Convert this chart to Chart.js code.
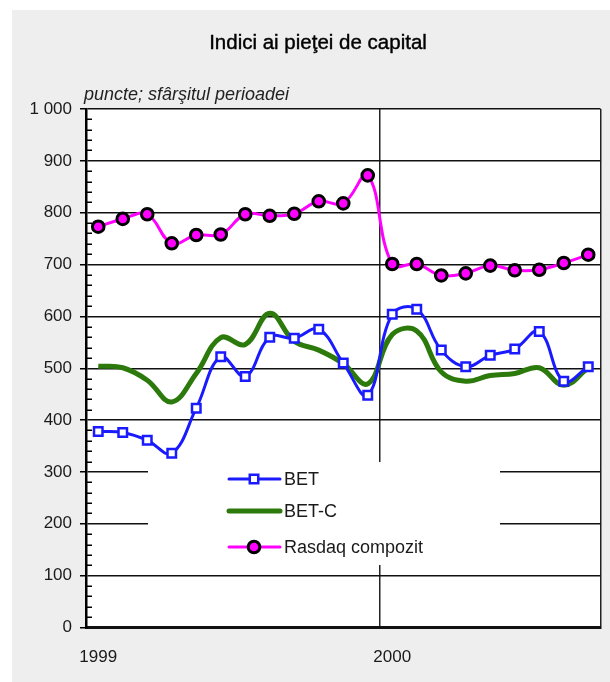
<!DOCTYPE html>
<html lang="ro">
<head>
<meta charset="UTF-8">
<title>Indici ai pieţei de capital</title>
<script src="https://cdn.jsdelivr.net/npm/chart.js@4"></script>
<style>
  body { margin: 0; background: #fff; }
  canvas { display: block; }
</style>
</head>
<body>
<canvas id="grafic" width="610" height="682"></canvas>
<script>
// luni: ianuarie 1999 - septembrie 2000, valori la sfarsitul perioadei
const luni = ['1999-01', '1999-02', '1999-03', '1999-04', '1999-05', '1999-06',
              '1999-07', '1999-08', '1999-09', '1999-10', '1999-11', '1999-12',
              '2000-01', '2000-02', '2000-03', '2000-04', '2000-05', '2000-06',
              '2000-07', '2000-08', '2000-09'];
const bet    = [378, 376, 361, 336, 423, 522, 484, 560, 558, 575, 510, 448,
                604, 614, 535, 503, 525, 537, 571, 475, 503];
const betC   = [504, 501, 477, 435, 490, 559, 546, 606, 552, 535, 509, 470,
                565, 572, 493, 475, 486, 490, 501, 467, 501];
const rasdaq = [773, 788, 797, 741, 757, 758, 797, 794, 798, 822, 818, 872,
                701, 701, 679, 683, 698, 689, 690, 703, 719];
const yTicks  = [0, 100, 200, 300, 400, 500, 600, 700, 800, 900, 1000];
const yLabels = ['0', '100', '200', '300', '400', '500', '600', '700', '800', '900', '1 000'];

const FONT = '"Liberation Sans", Arial, sans-serif';

// fundal gri, titlu si subtitlu
const fundal = {
  id: 'fundal',
  beforeDraw(chart) {
    const ctx = chart.ctx, a = chart.chartArea;
    ctx.save();
    ctx.fillStyle = '#fff';
    ctx.fillRect(0, 0, chart.width, chart.height);
    ctx.fillStyle = '#eeeeee';
    ctx.fillRect(12, 10, chart.width - 12, chart.height - 10);
    ctx.fillStyle = '#fff';
    ctx.fillRect(a.left, a.top, a.right - a.left, a.bottom - a.top);
    ctx.fillStyle = '#000';
    ctx.strokeStyle = '#000';
    ctx.lineWidth = 0.4;
    ctx.textBaseline = 'middle';
    ctx.textAlign = 'center';
    ctx.font = '20.5px ' + FONT;
    ctx.fillText('Indici ai pieţei de capital', 318, 43);
    ctx.strokeText('Indici ai pieţei de capital', 318, 43);
    ctx.fillStyle = '#222';
    ctx.textAlign = 'left';
    ctx.font = 'italic 18px ' + FONT;
    ctx.fillText('puncte; sfârşitul perioadei', 84, 95);
    ctx.restore();
  }
};

// gradatii mici pe axa Y (din 20 in 20)
const gradatii = {
  id: 'gradatii',
  afterDatasetsDraw(chart) {
    const ctx = chart.ctx, y = chart.scales.y, a = chart.chartArea;
    ctx.save();
    ctx.strokeStyle = '#000';
    ctx.lineWidth = 1.5;
    for (let v = 20; v < 1000; v += 20) {
      if (v % 100 === 0) continue;
      const py = Math.round(y.getPixelForValue(v)) + 0.25;
      ctx.beginPath();
      ctx.moveTo(a.left, py);
      ctx.lineTo(a.left + 6, py);
      ctx.stroke();
    }
    ctx.restore();
  }
};

// legenda in interiorul graficului, pe fond alb
const legenda = {
  id: 'legenda',
  afterDatasetsDraw(chart) {
    const ctx = chart.ctx;
    const ys = [479, 511, 547];
    ctx.save();
    ctx.fillStyle = '#fff';
    ctx.fillRect(148, 462, 352, 103);
    chart.data.datasets.forEach((ds, i) => {
      const y = ys[i];
      ctx.strokeStyle = ds.borderColor;
      ctx.lineWidth = ds.borderWidth;
      ctx.lineCap = 'round';
      ctx.beginPath();
      ctx.moveTo(229, y);
      ctx.lineTo(280, y);
      ctx.stroke();
      if (ds.pointRadius > 0) {
        ctx.fillStyle = ds.pointBackgroundColor;
        ctx.strokeStyle = ds.pointBorderColor;
        ctx.lineWidth = ds.pointBorderWidth;
        Chart.helpers.drawPoint(ctx, {
          pointStyle: ds.pointStyle, radius: ds.pointRadius,
          borderWidth: ds.pointBorderWidth, rotation: 0
        }, 254, y);
      }
      ctx.fillStyle = '#1a1a1a';
      ctx.font = '18px ' + FONT;
      ctx.textBaseline = 'middle';
      ctx.textAlign = 'left';
      ctx.fillText(ds.label, 284, y + 1);
    });
    ctx.restore();
  }
};

Chart.defaults.font.family = FONT;
Chart.defaults.color = '#1a1a1a';

new Chart(document.getElementById('grafic'), {
  type: 'line',
  data: {
    labels: luni,
    datasets: [{
      label: 'BET',
      data: bet,
      borderColor: '#1a1aff',
      borderWidth: 3,
      tension: 0.4,
      pointStyle: 'rect',
      pointRadius: 6,
      pointBackgroundColor: '#fff',
      pointBorderColor: '#1a1aff',
      pointBorderWidth: 2.5
    }, {
      label: 'BET-C',
      data: betC,
      borderColor: '#2b7a0b',
      borderWidth: 5,
      tension: 0.4,
      pointRadius: 0
    }, {
      label: 'Rasdaq compozit',
      data: rasdaq,
      borderColor: '#ff00ff',
      borderWidth: 3,
      tension: 0.4,
      pointStyle: 'circle',
      pointRadius: 5.8,
      pointBackgroundColor: '#ff00ff',
      pointBorderColor: '#000',
      pointBorderWidth: 3
    }]
  },
  options: {
    responsive: false,
    animation: false,
    layout: { padding: { top: 109, right: 9.5, left: 0, bottom: 0 } },
    plugins: {
      legend: { display: false },
      tooltip: { enabled: false },
      title: { display: false }
    },
    scales: {
      x: {
        type: 'category',
        offset: true,
        afterFit(scale) { scale.height = 54.5; },
        grid: {
          offset: true,
          drawTicks: false,
          lineWidth: 1.5,
          color: c => (c.type === 'scale' || c.index === 12) ? '#222' : 'rgba(0,0,0,0)'
        },
        border: { display: true, color: '#111', width: 3 },
        ticks: {
          autoSkip: false,
          maxRotation: 0,
          padding: 20,
          font: { size: 17 },
          callback: (v, i) => luni[i].endsWith('-01') ? luni[i].slice(0, 4) : ''
        }
      },
      y: {
        min: 0,
        max: 1000,
        afterFit(scale) { scale.width = 86; },
        afterBuildTicks(scale) { scale.ticks = yTicks.map(v => ({ value: v })); },
        grid: { color: '#111', lineWidth: 1.5, tickLength: 6, tickColor: '#000' },
        border: { display: true, color: '#000', width: 2.5 },
        ticks: {
          padding: 8,
          font: { size: 17 },
          callback: (v, i) => yLabels[yTicks.indexOf(v)]
        }
      }
    }
  },
  plugins: [fundal, gradatii, legenda]
});
</script>
</body>
</html>
